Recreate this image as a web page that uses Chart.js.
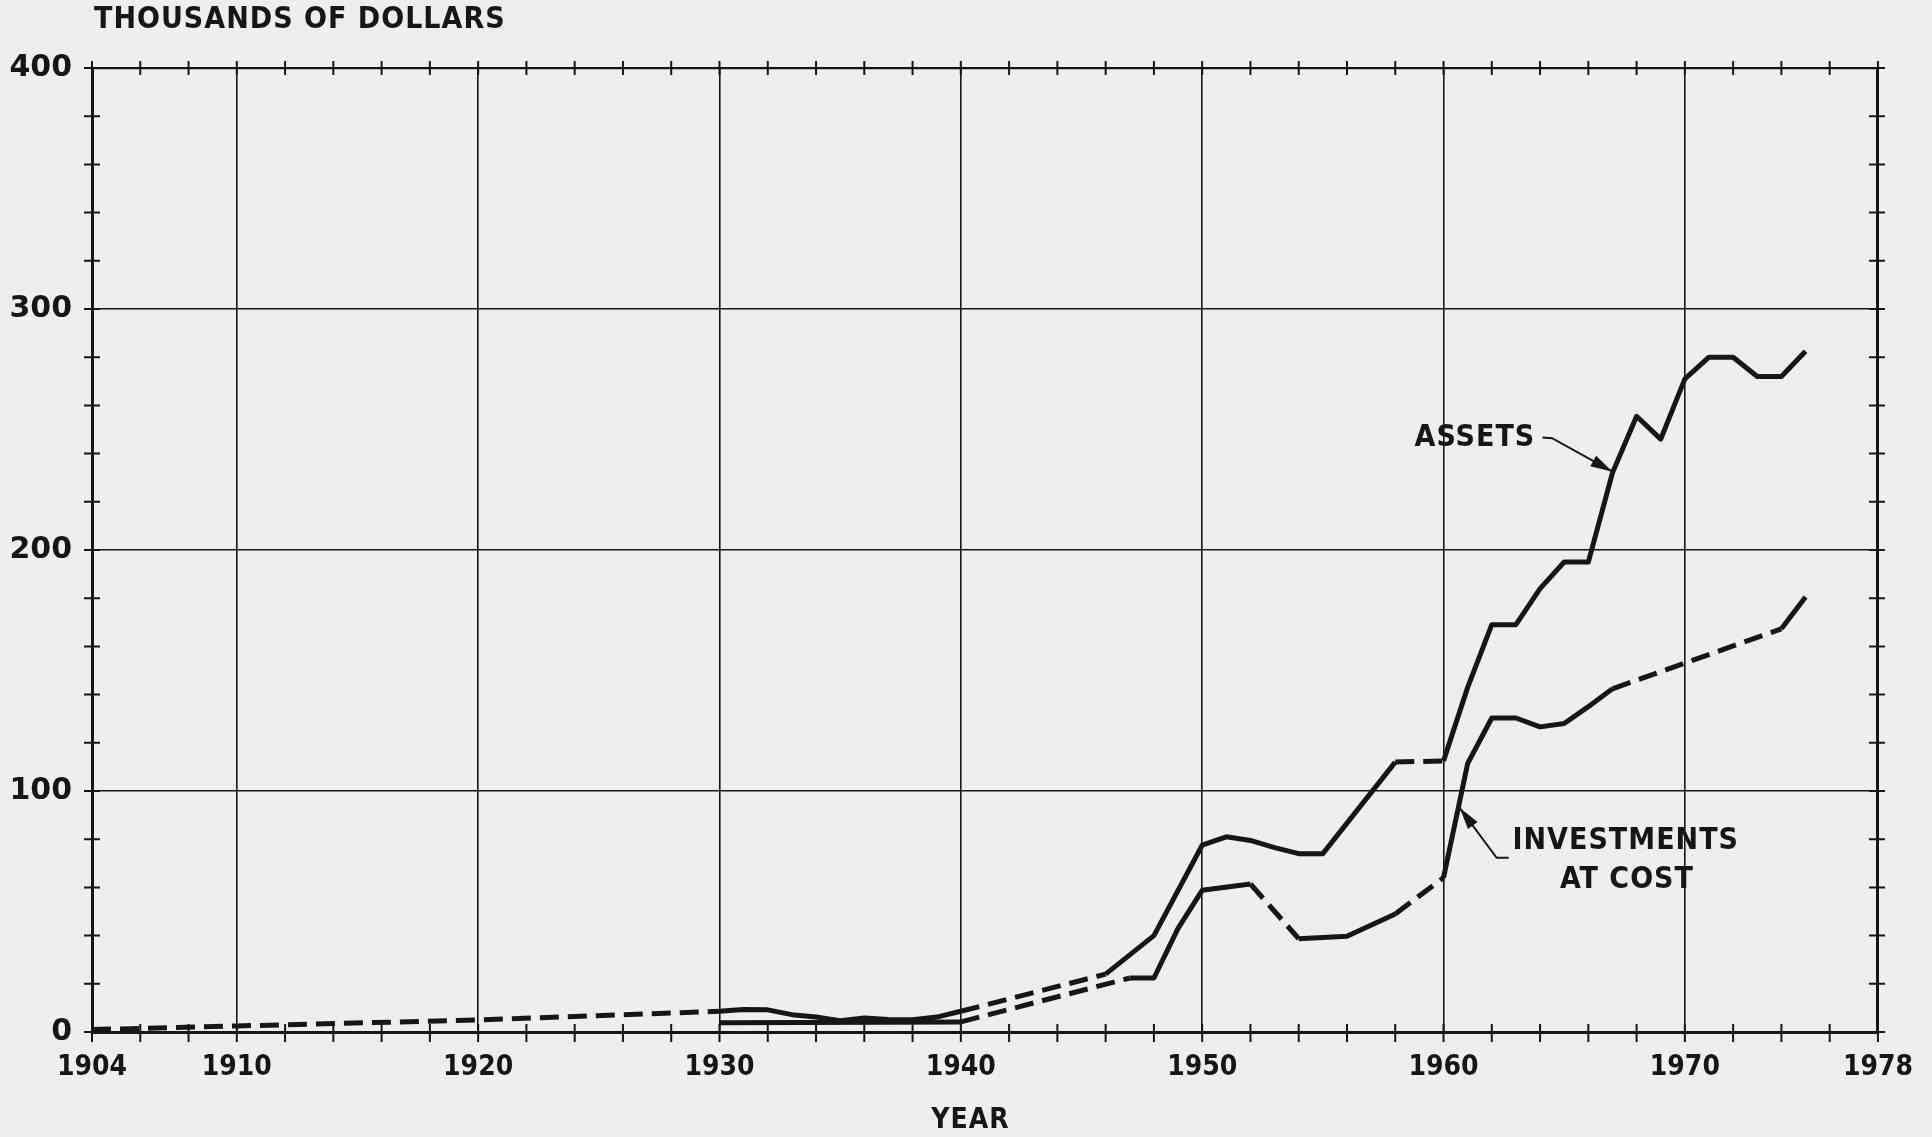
<!DOCTYPE html>
<html lang="en">
<head>
  <meta charset="UTF-8" />
  <title>Assets and Investments at Cost</title>
  <script src="https://cdn.jsdelivr.net/npm/chart.js"></script>
  <style>
    body {
      margin: 0;
      background-color: #eeeeec;
    }
    #wrap {
      width: 1932px;
      height: 1137px;
    }
  </style>
</head>
<body>
  <div id="wrap">
    <canvas id="fundChart" width="1932" height="1137"></canvas>
  </div>
  <script>
    // values in thousands of dollars
    const assetYears = [1904, 1910, 1920, 1930, 1931, 1932, 1933, 1934, 1935, 1936, 1937, 1938, 1939, 1940,
      1946, 1947, 1948, 1950, 1951, 1952, 1953, 1954, 1955, 1958, 1960,
      1961, 1962, 1963, 1964, 1965, 1966, 1967, 1968, 1969, 1970, 1971, 1972, 1973, 1974, 1975];
    const assetValues = [1, 2.5, 5, 8.6, 9.3, 9.2, 7.2, 6.2, 4.7, 5.8, 5.2, 5.1, 6.2, 8.6,
      24, 32, 40, 77.5, 81, 79.5, 76.5, 74, 74, 112, 112.5,
      143, 169, 169, 184, 195, 195, 232, 255.5, 246, 271, 280, 280, 272, 272, 282.5];

    const investYears = [1930, 1940, 1947, 1948, 1949, 1950, 1952, 1954, 1956, 1958, 1960,
      1961, 1962, 1963, 1964, 1965, 1966, 1967, 1974, 1975];
    const investValues = [3.8, 4.2, 22.4, 22.4, 43, 58.8, 61.4, 38.7, 39.7, 49, 64,
      111.4, 130.3, 130.3, 126.6, 128, 135, 142.4, 167.3, 180.5];

    // stretches with no yearly figures (drawn dashed)
    const assetGaps = [[1904, 1930], [1940, 1946], [1958, 1960]];
    const investGaps = [[1940, 1947], [1952, 1954], [1958, 1960], [1967, 1974]];

    const xTickYears = [1904, 1910, 1920, 1930, 1940, 1950, 1960, 1970, 1978];
    const yTickValues = [0, 100, 200, 300, 400];

    const ink = '#161616';
    const letterFont = '"DejaVu Sans Condensed", "DejaVu Sans"';

    function inGap(a, b, gaps) {
      return gaps.some(g => a >= g[0] && b <= g[1]);
    }

    function toPoints(xs, ys) {
      return xs.map((x, i) => ({ x: x, y: ys[i] }));
    }

    // labels and pointer arrows, placed in data units
    const notes = [
      { text: 'ASSETS', year: 1961.3, value: 246.4 },
      { text: 'INVESTMENTS', year: 1967.55, value: 79.1 },
      { text: 'AT COST', year: 1967.6, value: 62.9 }
    ];
    const pointers = [
      [[1964.1, 246.7], [1964.5, 246.4], [1967.0, 232.5]],
      [[1962.7, 72.3], [1962.2, 72.3], [1960.67, 93]]
    ];

    const decorPlugin = {
      id: 'decor',
      beforeDatasetsDraw(chart) {
        const { ctx, chartArea: a, scales } = chart;
        const xs = scales.x, ys = scales.y;
        ctx.save();
        ctx.strokeStyle = ink;
        ctx.lineWidth = 2;
        // minor ticks crossing the frame
        for (let yr = 1904; yr <= 1978; yr += 2) {
          const px = xs.getPixelForValue(yr);
          ctx.beginPath();
          ctx.moveTo(px, a.bottom - 8); ctx.lineTo(px, a.bottom + 10);
          ctx.moveTo(px, a.top - 7); ctx.lineTo(px, a.top + 7);
          ctx.stroke();
        }
        for (let v = 0; v <= 400; v += 20) {
          const py = ys.getPixelForValue(v);
          ctx.beginPath();
          ctx.moveTo(a.left - 8, py); ctx.lineTo(a.left + 8, py);
          ctx.moveTo(a.right - 9, py); ctx.lineTo(a.right + 7, py);
          ctx.stroke();
        }
        ctx.restore();
      },
      afterDraw(chart) {
        const { ctx, chartArea: a, scales } = chart;
        const xs = scales.x, ys = scales.y;
        ctx.save();
        ctx.fillStyle = ink;
        ctx.strokeStyle = ink;

        ctx.font = 'bold 30px ' + letterFont;
        ctx.textBaseline = 'middle';
        ctx.textAlign = 'left';
        ctx.letterSpacing = '1px';
        ctx.fillText('THOUSANDS OF DOLLARS', a.left + 2, 20);

        ctx.font = 'bold 28px ' + letterFont;
        ctx.textAlign = 'center';
        ctx.fillText('YEAR', xs.getPixelForValue(1940.4), 1121);

        ctx.font = 'bold 30px ' + letterFont;
        notes.forEach(n => {
          ctx.fillText(n.text, xs.getPixelForValue(n.year), ys.getPixelForValue(n.value));
        });
        ctx.letterSpacing = '0px';

        ctx.lineWidth = 2;
        pointers.forEach(p => {
          const pts = p.map(q => [xs.getPixelForValue(q[0]), ys.getPixelForValue(q[1])]);
          ctx.beginPath();
          ctx.moveTo(pts[0][0], pts[0][1]);
          for (let i = 1; i < pts.length; i++) ctx.lineTo(pts[i][0], pts[i][1]);
          ctx.stroke();
          const tip = pts[pts.length - 1], prev = pts[pts.length - 2];
          const ang = Math.atan2(tip[1] - prev[1], tip[0] - prev[0]);
          const len = 22, half = 6;
          ctx.beginPath();
          ctx.moveTo(tip[0], tip[1]);
          ctx.lineTo(tip[0] - len * Math.cos(ang) + half * Math.sin(ang), tip[1] - len * Math.sin(ang) - half * Math.cos(ang));
          ctx.lineTo(tip[0] - len * Math.cos(ang) - half * Math.sin(ang), tip[1] - len * Math.sin(ang) + half * Math.cos(ang));
          ctx.closePath();
          ctx.fill();
        });
        ctx.restore();
      }
    };

    const lineStyle = {
      borderColor: ink,
      borderWidth: 5,
      pointRadius: 0,
      tension: 0,
      borderJoinStyle: 'round',
      fill: false
    };

    new Chart(document.getElementById('fundChart'), {
      type: 'line',
      data: {
        datasets: [
          Object.assign({
            label: 'Assets',
            data: toPoints(assetYears, assetValues),
            segment: { borderDash: c => inGap(c.p0.parsed.x, c.p1.parsed.x, assetGaps) ? [19, 9] : undefined }
          }, lineStyle),
          Object.assign({
            label: 'Investments at cost',
            data: toPoints(investYears, investValues),
            segment: { borderDash: c => inGap(c.p0.parsed.x, c.p1.parsed.x, investGaps) ? [19, 9] : undefined }
          }, lineStyle)
        ]
      },
      options: {
        responsive: false,
        animation: false,
        layout: { padding: { left: 0, right: 51, top: 68, bottom: 0 } },
        plugins: {
          legend: { display: false },
          tooltip: { enabled: false }
        },
        scales: {
          x: {
            type: 'linear',
            min: 1904,
            max: 1978,
            afterBuildTicks: s => { s.ticks = xTickYears.map(v => ({ value: v })); },
            afterFit: s => { s.height = 105; },
            ticks: {
              autoSkip: false,
              maxRotation: 0,
              padding: 19,
              color: ink,
              font: { family: letterFont, size: 28, weight: 'bold' },
              callback: v => String(v)
            },
            grid: {
              drawTicks: false,
              color: ink,
              lineWidth: c => (c.tick && c.tick.value === 1978) ? 3 : 1.6
            },
            border: { color: ink, width: 3 }
          },
          y: {
            min: 0,
            max: 400,
            afterBuildTicks: s => { s.ticks = yTickValues.map(v => ({ value: v })); },
            afterFit: s => { s.width = 92; },
            ticks: {
              padding: 20,
              color: ink,
              font: { family: '"DejaVu Sans"', size: 30, weight: 'bold' }
            },
            grid: {
              drawTicks: false,
              color: ink,
              lineWidth: c => (c.tick && c.tick.value === 400) ? 2.2 : 1.6
            },
            border: { color: ink, width: 3 }
          }
        }
      },
      plugins: [decorPlugin]
    });
  </script>
</body>
</html>
